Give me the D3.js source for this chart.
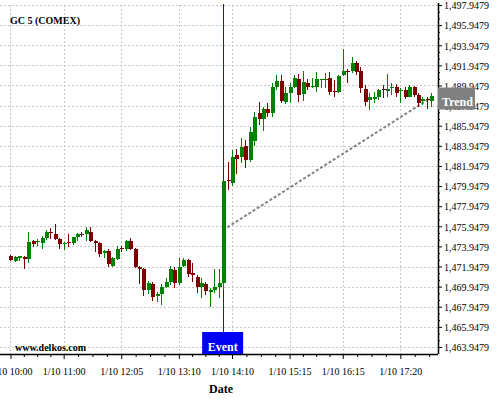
<!DOCTYPE html>
<html>
<head>
<meta charset="utf-8">
<script src="https://cdn.jsdelivr.net/npm/d3@7"></script>
<style>
  body { margin: 0; background: #fff; }
  svg { display: block; }
  text { font-family: "Liberation Serif", "Times New Roman", serif; }
</style>
</head>
<body>
<svg id="chart" width="500" height="400"></svg>
<script>
// GC 5 (COMEX) five-minute candles, 1/10 10:00 - 17:55
const opens = [
  1472.99, 1472.52, 1472.82, 1472.89, 1472.72, 1474.49, 1474.36, 1474.32, 1474.79, 1475.38,
  1475.18, 1474.69, 1474.16, 1474.39, 1474.32, 1474.88, 1475.18, 1475.18, 1475.41, 1474.52,
  1474.32, 1473.29, 1473.49, 1472.02, 1472.72, 1473.79, 1473.69, 1474.52, 1473.69, 1471.90,
  1471.70, 1469.57, 1470.24, 1469.03, 1469.24, 1469.90, 1470.37, 1471.60, 1470.27, 1471.99,
  1472.59, 1471.27, 1470.87, 1469.88, 1470.21, 1469.44, 1469.61, 1469.88, 1470.27, 1480.55,
  1480.28, 1483.03, 1482.86, 1483.93, 1482.54, 1484.45, 1487.18, 1486.58, 1487.58, 1487.24,
  1489.82, 1490.42, 1488.33, 1489.17, 1489.82, 1490.56, 1489.10, 1490.19, 1489.82, 1489.82,
  1490.49, 1490.49, 1490.66, 1489.39, 1489.33, 1490.98, 1491.38, 1491.38, 1492.15, 1491.38,
  1489.56, 1488.55, 1488.65, 1488.83, 1489.56, 1489.42, 1489.66, 1489.76, 1489.35, 1489.49,
  1488.83, 1489.82, 1489.00, 1488.43, 1488.60, 1488.43
];
const highs = [
  1473.14, 1472.99, 1473.04, 1473.02, 1475.38, 1474.56, 1474.69, 1474.98, 1475.58, 1475.78,
  1476.18, 1474.79, 1474.39, 1475.15, 1474.92, 1475.25, 1475.38, 1475.91, 1475.91, 1474.59,
  1474.39, 1473.59, 1473.69, 1472.86, 1473.99, 1473.96, 1474.62, 1474.76, 1473.76, 1471.96,
  1471.77, 1470.50, 1470.44, 1469.43, 1470.17, 1470.77, 1471.99, 1471.93, 1472.76, 1472.76,
  1472.66, 1472.26, 1471.10, 1470.77, 1470.44, 1469.78, 1471.67, 1471.67, 1480.55, 1482.37,
  1483.53, 1483.63, 1484.69, 1484.52, 1485.85, 1487.34, 1488.33, 1487.83, 1488.23, 1490.16,
  1490.98, 1490.98, 1489.82, 1490.16, 1490.98, 1491.08, 1491.38, 1490.56, 1490.66, 1491.25,
  1490.60, 1491.21, 1491.25, 1490.49, 1490.98, 1493.54, 1491.55, 1492.80, 1492.38, 1491.81,
  1489.99, 1489.17, 1489.33, 1489.56, 1489.99, 1491.08, 1490.16, 1490.09, 1489.66, 1489.76,
  1489.99, 1489.89, 1489.17, 1488.83, 1488.77, 1489.17
];
const lows = [
  1472.49, 1472.39, 1472.49, 1471.70, 1472.32, 1473.86, 1473.99, 1473.66, 1474.59, 1474.72,
  1474.59, 1473.66, 1473.59, 1473.92, 1474.09, 1474.52, 1474.88, 1474.49, 1474.39, 1473.42,
  1472.92, 1472.82, 1471.92, 1471.86, 1472.59, 1473.42, 1473.49, 1473.62, 1471.83, 1470.17,
  1469.03, 1469.17, 1468.54, 1468.44, 1468.14, 1469.77, 1470.11, 1469.77, 1470.11, 1471.93,
  1470.93, 1470.44, 1469.27, 1468.79, 1469.10, 1467.96, 1469.34, 1468.79, 1469.61, 1479.55,
  1480.00, 1481.11, 1482.24, 1481.71, 1482.37, 1483.93, 1486.02, 1485.45, 1486.84, 1486.84,
  1489.49, 1488.23, 1488.10, 1488.17, 1489.66, 1488.33, 1488.43, 1489.49, 1489.66, 1489.27,
  1489.69, 1489.66, 1489.00, 1488.83, 1489.17, 1490.88, 1490.16, 1491.15, 1490.98, 1489.17,
  1487.90, 1487.51, 1488.17, 1488.50, 1488.67, 1488.83, 1489.00, 1488.77, 1488.17, 1488.57,
  1488.77, 1488.83, 1487.83, 1488.00, 1487.58, 1487.83
];
const closes = [
  1472.62, 1472.92, 1472.99, 1472.72, 1474.39, 1474.19, 1474.49, 1474.79, 1475.38, 1475.25,
  1474.72, 1474.16, 1474.32, 1474.29, 1474.88, 1475.18, 1475.08, 1475.58, 1474.49, 1474.32,
  1473.22, 1473.49, 1472.16, 1472.76, 1473.69, 1473.69, 1474.49, 1473.69, 1471.90, 1471.73,
  1469.57, 1470.30, 1468.94, 1469.17, 1469.90, 1470.37, 1471.70, 1470.27, 1471.87, 1472.59,
  1471.20, 1471.10, 1469.88, 1470.27, 1469.54, 1469.61, 1469.88, 1470.34, 1480.45, 1480.42,
  1482.86, 1482.61, 1483.80, 1482.54, 1485.35, 1486.81, 1486.58, 1487.58, 1487.24, 1489.82,
  1490.42, 1488.43, 1489.17, 1489.82, 1490.66, 1489.00, 1490.26, 1489.82, 1489.92, 1490.56,
  1490.56, 1490.56, 1489.33, 1489.29, 1490.88, 1491.38, 1491.31, 1492.15, 1491.31, 1489.66,
  1488.33, 1488.77, 1488.83, 1489.49, 1489.46, 1489.56, 1489.76, 1489.23, 1489.49, 1488.83,
  1489.82, 1489.00, 1488.25, 1488.60, 1488.50, 1488.90
];

// Date axis: candle index of each labelled tick and its text
const tickIndex = [0, 12, 25, 38, 50, 63, 75, 88];
const tickLabels = ["1/10 10:00", "1/10 11:00", "1/10 12:05", "1/10 13:10",
                    "1/10 14:10", "1/10 15:15", "1/10 16:15", "1/10 17:20"];

// Price axis ticks
const priceTicks = [1463.9479, 1465.9479, 1467.9479, 1469.9479, 1471.9479, 1473.9479,
                    1475.9479, 1477.9479, 1479.9479, 1481.9479, 1483.9479, 1485.9479,
                    1487.9479, 1489.9479, 1491.9479, 1493.9479, 1495.9479, 1497.9479];

// Event candle and trend line end points
const eventIndex = 48;
const trendIndex = [48, 95];
const trendPrice = [1475.58, 1488.75];

const candles = opens.map((o, i) => ({ i, o, h: highs[i], l: lows[i], c: closes[i] }));

const svg = d3.select("#chart");
const plotLeft = 0, plotRight = 438, plotTop = 5, plotBottom = 354;

const x = d3.scaleLinear().domain([-2.37, 96.5]).range([plotLeft, plotRight]);
const y = d3.scaleLinear().domain([1463.25, 1497.95]).range([plotBottom, plotTop]);

const grid = svg.append("g").attr("stroke", "#c8c8c8").attr("stroke-dasharray", "2,2")
  .attr("stroke-width", 1).attr("shape-rendering", "crispEdges");
grid.selectAll("line.h").data(priceTicks).join("line").attr("class", "h")
  .attr("x1", plotLeft).attr("x2", plotRight)
  .attr("y1", d => Math.round(y(d)) + 0.5).attr("y2", d => Math.round(y(d)) + 0.5);
grid.selectAll("line.v").data(tickIndex).join("line").attr("class", "v")
  .attr("x1", d => Math.round(x(d)) + 0.5).attr("x2", d => Math.round(x(d)) + 0.5)
  .attr("y1", plotTop).attr("y2", plotBottom);

// Trend line
svg.append("line")
  .attr("x1", x(trendIndex[0])).attr("y1", y(trendPrice[0]))
  .attr("x2", x(trendIndex[1])).attr("y2", y(trendPrice[1]))
  .attr("stroke", "#848484").attr("stroke-width", 2).attr("stroke-dasharray", "3,2");

// Event marker line
const evX = Math.round(x(eventIndex)) + 0.5;
const evBoxTop = 332;
svg.append("line").attr("x1", evX).attr("x2", evX).attr("y1", 4).attr("y2", evBoxTop)
  .attr("stroke", "#1414d2").attr("stroke-width", 1);

// Candles
const up = "#008000", down = "#800000";
const cg = svg.append("g").attr("shape-rendering", "crispEdges");
cg.selectAll("line").data(candles).join("line")
  .attr("x1", d => Math.round(x(d.i)) + 0.5).attr("x2", d => Math.round(x(d.i)) + 0.5)
  .attr("y1", d => y(d.h)).attr("y2", d => y(d.l))
  .attr("stroke", d => d.c >= d.o ? up : down).attr("stroke-width", 1);
cg.selectAll("rect").data(candles).join("rect")
  .attr("x", d => Math.round(x(d.i)) - 1.5)
  .attr("width", 4)
  .attr("y", d => y(Math.max(d.o, d.c)))
  .attr("height", d => Math.max(1, Math.abs(y(d.o) - y(d.c))))
  .attr("fill", d => d.c >= d.o ? up : down);

// Date axis with minor ticks
const minorTicks = [];
for (let k = 0; k < tickIndex.length - 1; k++) {
  const a = tickIndex[k], b = tickIndex[k + 1];
  for (let m = 1; m < 4; m++) minorTicks.push(a + (b - a) * m / 4);
}
minorTicks.push(88 + 3.25, 88 + 6.5);

const xMinor = svg.append("g").attr("transform", `translate(0,${plotBottom})`)
  .call(d3.axisBottom(x).tickValues(minorTicks).tickFormat("").tickSize(3).tickSizeOuter(0));
xMinor.select(".domain").remove();

const xAxis = svg.append("g").attr("transform", `translate(0,${plotBottom})`)
  .call(d3.axisBottom(x).tickValues(tickIndex).tickFormat((d, i) => tickLabels[i])
    .tickSize(5).tickSizeOuter(0).tickPadding(9));
xAxis.attr("font-family", "'Liberation Serif', 'Times New Roman', serif").attr("font-size", 10);
xAxis.select(".domain").attr("stroke-width", 1.5).attr("d", `M${plotLeft},0.5H${plotRight}`);
xAxis.selectAll(".tick text").attr("fill", "#000");

// Price axis on the right with minor ticks
const yMinor = [];
for (let k = 0; k < priceTicks.length - 1; k++) {
  for (let m = 1; m < 3; m++) yMinor.push(priceTicks[k] + 2 * m / 3);
}
const yMin = svg.append("g").attr("transform", `translate(${plotRight},0)`)
  .call(d3.axisRight(y).tickValues(yMinor).tickFormat("").tickSize(2).tickSizeOuter(0));
yMin.select(".domain").remove();

const yAxis = svg.append("g").attr("transform", `translate(${plotRight},0)`)
  .call(d3.axisRight(y).tickValues(priceTicks).tickFormat(d3.format(",.4f"))
    .tickSize(4).tickSizeOuter(0).tickPadding(2));
yAxis.attr("font-family", "'Liberation Serif', 'Times New Roman', serif").attr("font-size", 10);
yAxis.select(".domain").attr("stroke-width", 1.5).attr("d", `M0.5,3V${plotBottom}`);
yAxis.selectAll(".tick text").attr("fill", "#000").attr("dy", "0.38em");

// Labels
svg.append("text").attr("x", 10).attr("y", 24).attr("font-size", 10)
  .attr("font-weight", "bold").text("GC 5 (COMEX)");
svg.append("text").attr("x", 15).attr("y", 351).attr("font-size", 10)
  .attr("font-weight", "bold").text("www.delkos.com");
svg.append("text").attr("x", 221).attr("y", 393).attr("font-size", 12)
  .attr("font-weight", "bold").attr("text-anchor", "middle").text("Date");

// Event tag
svg.append("rect").attr("x", x(eventIndex) - 21).attr("y", evBoxTop)
  .attr("width", 41).attr("height", plotBottom - evBoxTop).attr("fill", "#0000f5");
svg.append("text").attr("x", x(eventIndex) - 0.5).attr("y", 350.5)
  .attr("font-size", 12).attr("font-weight", "bold").attr("fill", "#fff")
  .attr("text-anchor", "middle").text("Event");

// Trend tag at the trend line end price
const trendY = y(trendPrice[1]);
svg.append("rect").attr("x", plotRight).attr("y", trendY - 10)
  .attr("width", 37).attr("height", 22).attr("fill", "#808080");
svg.append("text").attr("x", plotRight + 19.5).attr("y", trendY + 8.5)
  .attr("font-size", 12).attr("font-weight", "bold").attr("fill", "#fff")
  .attr("text-anchor", "middle").text("Trend");
</script>
</body>
</html>
